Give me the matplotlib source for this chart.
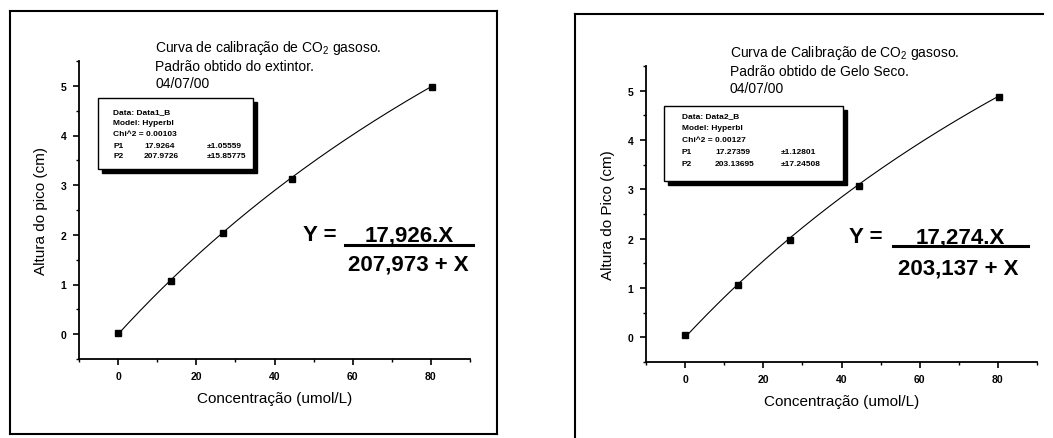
import matplotlib
matplotlib.use("Agg")
import matplotlib.pyplot as plt
import numpy as np
from matplotlib.lines import Line2D
from matplotlib.patches import Rectangle
from matplotlib.ticker import MultipleLocator

plt.rcParams['font.family'] = ['Liberation Sans', 'DejaVu Sans']
plt.rcParams['mathtext.fontset'] = 'custom'
plt.rcParams['mathtext.rm'] = 'Liberation Sans'
plt.rcParams['mathtext.it'] = 'Liberation Sans:italic'
plt.rcParams['mathtext.bf'] = 'Liberation Sans:bold'

# ---- data ----
conc_1 = [0, 13.5, 26.8, 44.6, 80.3]
height_1 = [0.03, 1.07, 2.03, 3.12, 4.97]
p1_1, p2_1 = 17.9264, 207.9726

conc_2 = [0, 13.6, 26.8, 44.6, 80.3]
height_2 = [0.04, 1.07, 1.98, 3.07, 4.87]
p1_2, p2_2 = 17.27359, 203.13695

x_ticks = [0, 20, 40, 60, 80]
y_ticks = [0, 1, 2, 3, 4, 5]

titles_1 = ["Curva de calibração de CO$_\\mathregular{2}$ gasoso.", "Padrão obtido do extintor.", "04/07/00"]
titles_2 = ["Curva de Calibração de CO$_\\mathregular{2}$ gasoso.", "Padrão obtido de Gelo Seco.", "04/07/00"]
info_1 = [("Data: Data1_B", "", ""), ("Model: Hyperbl", "", ""), ("Chi^2 = 0.00103", "", ""),
          ("P1", "17.9264", "±1.05559"), ("P2", "207.9726", "±15.85775")]
info_2 = [("Data: Data2_B", "", ""), ("Model: Hyperbl", "", ""), ("Chi^2 = 0.00127", "", ""),
          ("P1", "17.27359", "±1.12801"), ("P2", "203.13695", "±17.24508")]
eq_1 = ("17,926.X", "207,973 + X")
eq_2 = ("17,274.X", "203,137 + X")
ylabel_1 = "Altura do pico (cm)"
ylabel_2 = "Altura do Pico (cm)"
xlabel = "Concentração (umol/L)"

W, H = 1053, 439
fig = plt.figure(figsize=(W / 100, H / 100), dpi=100)
fig.patch.set_facecolor('white')


def fx(px):
    return px / W


def fy(py):
    return 1 - py / H


def frame_line(x0, y0, x1, y1, lw=1.5):
    fig.add_artist(Line2D([fx(x0), fx(x1)], [fy(y0), fy(y1)], color='black', lw=lw,
                          transform=fig.transFigure))


# outer frames
frame_line(10, 12, 497, 12)
frame_line(10, 12, 10, 435)
frame_line(10, 435, 497, 435)
frame_line(497, 12, 497, 435)
frame_line(575, 15, 1043, 15)
frame_line(575, 15, 575, 439)


def make_panel(rect, conc, height, p1, p2, ylabel):
    ax = fig.add_axes(rect)
    ax.set_xlim(-10, 90)
    ax.set_ylim(-0.5, 5.5)
    xs = np.linspace(0, max(conc), 200)
    ax.plot(xs, p1 * xs / (p2 + xs), color='black', lw=0.8)
    ax.plot(conc, height, 's', color='black', ms=5)
    for s in ['top', 'right']:
        ax.spines[s].set_visible(False)
    for s in ['left', 'bottom']:
        ax.spines[s].set_linewidth(1.3)
    ax.set_xticks(x_ticks)
    ax.set_yticks(y_ticks)
    ax.xaxis.set_minor_locator(MultipleLocator(10))
    ax.yaxis.set_minor_locator(MultipleLocator(0.5))
    ax.tick_params(which='major', direction='out', length=4, width=1.2, labelsize=7.5, pad=5)
    ax.tick_params(which='minor', direction='out', length=2.5, width=1.0)
    for lab in ax.get_xticklabels() + ax.get_yticklabels():
        lab.set_fontweight('bold')
    ax.set_xlabel(xlabel, fontsize=11, labelpad=7)
    ax.set_ylabel(ylabel, fontsize=11, labelpad=9)
    ax.patch.set_alpha(0)
    return ax


ax1 = make_panel([79 / W, 1 - 360 / H, 391 / W, 298 / H], conc_1, height_1, p1_1, p2_1, ylabel_1)
ax2 = make_panel([646 / W, 1 - 363 / H, 391 / W, 296 / H], conc_2, height_2, p1_2, p2_2, ylabel_2)


def titles(x, ys, lines):
    for yy, t in zip(ys, lines):
        fig.text(fx(x), fy(yy), t, fontsize=10, va='baseline', ha='left')


titles(155, [52, 71, 88], titles_1)
titles(730, [57, 76, 93], titles_2)


def info_box(x0, y0, x1, y1, rows, tx, vx, ex, ry):
    # shadow
    fig.add_artist(Rectangle((fx(x0 + 4), fy(y1 + 4)), fx(x1 - x0), (y1 - y0) / H,
                             transform=fig.transFigure, facecolor='black', edgecolor='black', zorder=5))
    fig.add_artist(Rectangle((fx(x0), fy(y1)), fx(x1 - x0), (y1 - y0) / H,
                             transform=fig.transFigure, facecolor='white', edgecolor='black',
                             lw=1.0, zorder=6))
    for yy, (a, b, c) in zip(ry, rows):
        fig.text(fx(tx), fy(yy), a, fontsize=6, va='center', ha='left', zorder=7, fontweight='bold')
        if b:
            fig.text(fx(vx), fy(yy), b, fontsize=6, va='center', ha='left', zorder=7, fontweight='bold')
            fig.text(fx(ex), fy(yy), c, fontsize=6, va='center', ha='left', zorder=7, fontweight='bold')


info_box(98, 99, 253, 170, info_1, 113, 144, 207, [113, 124, 135, 146, 157])
info_box(664, 107, 843, 182, info_2, 682, 715, 781, [117, 129, 141, 153, 165])


def equation(yx, yb, nx, nb, bx0, bx1, by, dx, db, eq):
    fig.text(fx(yx), fy(yb), "Y =", fontsize=16, fontweight='bold', va='baseline', ha='left')
    fig.text(fx(nx), fy(nb), eq[0], fontsize=16, fontweight='bold', va='baseline', ha='center')
    frame_line(bx0, by, bx1, by, lw=2.2)
    fig.text(fx(dx), fy(db), eq[1], fontsize=16, fontweight='bold', va='baseline', ha='center')


equation(303, 241, 409, 242, 345, 473, 246, 408, 271, eq_1)
equation(849, 243, 960, 243.5, 893, 1028, 247, 958, 275, eq_2)

fig.savefig("out.png", dpi=100)
